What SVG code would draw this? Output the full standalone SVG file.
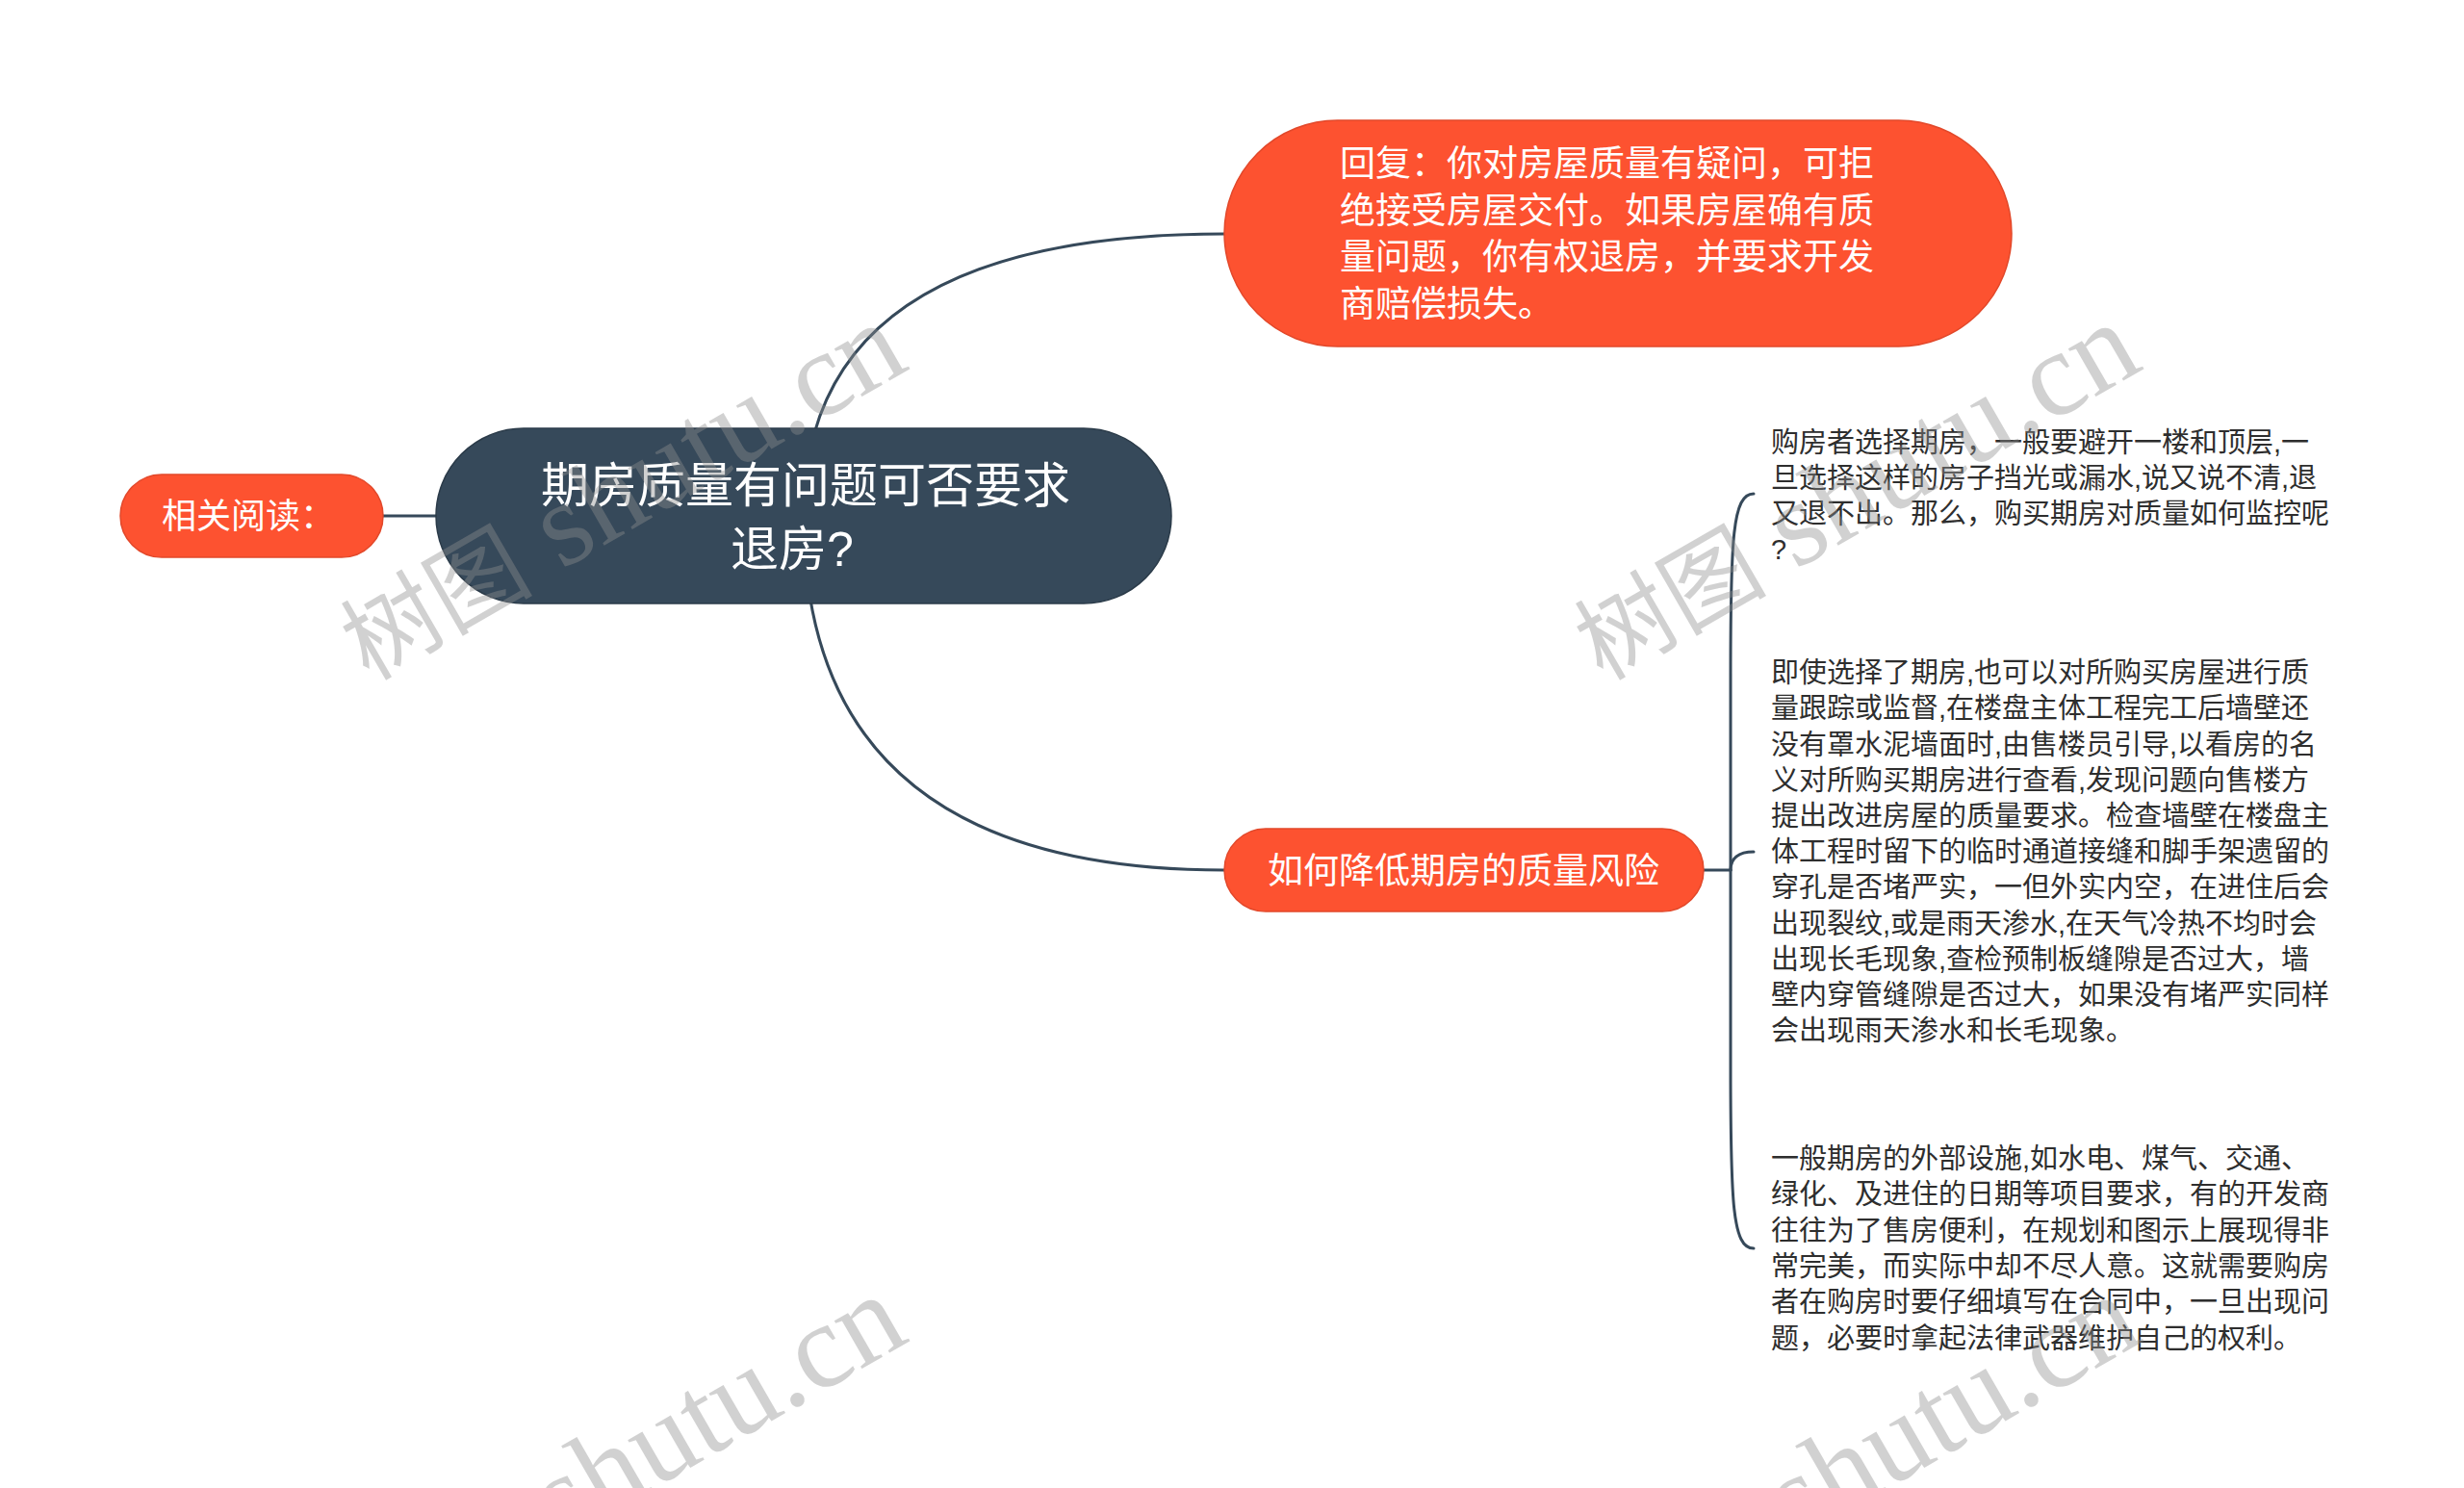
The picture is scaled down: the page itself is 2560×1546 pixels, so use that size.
<svg xmlns="http://www.w3.org/2000/svg" width="2560" height="1546" viewBox="0 0 2560 1546">
<style>
.orange{fill:#fd5230;stroke:#e2482a;stroke-width:1.5}
.dark{fill:#36495a;stroke:#2b3b49;stroke-width:1.5}
.wt{fill:#ffffff;font-family:"Liberation Sans","Noto Sans CJK SC",sans-serif}
.bt{fill:#2e2e2e;font-family:"Liberation Sans","Noto Sans CJK SC",sans-serif;font-size:29px}
.conn{fill:none;stroke:#36495a;stroke-width:3;stroke-linecap:round}
.wm{fill:#8f8f8f;opacity:0.4;font-family:"Liberation Serif","Noto Sans CJK SC",serif;font-size:125px}
.wmc{font-size:100px}
</style>
<rect width="2560" height="1546" fill="#ffffff"/>
<g id="connectors">
<path class="conn" d="M398,536 H453"/>
<path class="conn" d="M835,536 Q835,243 1272,243"/>
<path class="conn" d="M835,536 Q835,904 1272,904"/>
<path class="conn" d="M1770,904 H1798"/>
<path class="conn" d="M1798,904 L1798,700 C1798,560 1800,513 1822,513"/>
<path class="conn" d="M1798,904 C1798,892 1806,885 1822,885"/>
<path class="conn" d="M1798,904 L1798,1110 C1798,1250 1800,1297 1822,1297"/>
</g>
<g id="node-central">
<rect class="dark" x="453" y="445" width="764" height="182" rx="91" ry="91"/>
<text class="wt" font-size="50" x="562" y="522">期房质量有问题可否要求</text>
<text class="wt" font-size="50" x="759" y="588">退房?</text>
</g>
<g id="node-related">
<rect class="orange" x="125" y="493" width="273" height="86" rx="43" ry="43"/>
<text class="wt" font-size="36" x="168" y="549">相关阅读：</text>
</g>
<g id="node-reply">
<rect class="orange" x="1272" y="125" width="818" height="235" rx="117.5" ry="117.5"/>
<text class="wt" font-size="37" x="1392" y="183">回复：你对房屋质量有疑问，可拒</text>
<text class="wt" font-size="37" x="1392" y="232">绝接受房屋交付。如果房屋确有质</text>
<text class="wt" font-size="37" x="1392" y="280">量问题，你有权退房，并要求开发</text>
<text class="wt" font-size="37" x="1392" y="329">商赔偿损失。</text>
</g>
<g id="node-risk">
<rect class="orange" x="1272" y="861" width="498" height="86" rx="43" ry="43"/>
<text class="wt" font-size="37" x="1317" y="918">如何降低期房的质量风险</text>
</g>
<g id="node-text1">
<text class="bt" x="1840" y="470">购房者选择期房，一般要避开一楼和顶层,一</text>
<text class="bt" x="1840" y="507">旦选择这样的房子挡光或漏水,说又说不清,退</text>
<text class="bt" x="1840" y="544">又退不出。那么，购买期房对质量如何监控呢</text>
<text class="bt" x="1840" y="581">?</text>
</g>
<g id="node-text2">
<text class="bt" x="1840" y="709">即使选择了期房,也可以对所购买房屋进行质</text>
<text class="bt" x="1840" y="746">量跟踪或监督,在楼盘主体工程完工后墙壁还</text>
<text class="bt" x="1840" y="784">没有罩水泥墙面时,由售楼员引导,以看房的名</text>
<text class="bt" x="1840" y="821">义对所购买期房进行查看,发现问题向售楼方</text>
<text class="bt" x="1840" y="858">提出改进房屋的质量要求。检查墙壁在楼盘主</text>
<text class="bt" x="1840" y="895">体工程时留下的临时通道接缝和脚手架遗留的</text>
<text class="bt" x="1840" y="932">穿孔是否堵严实，一但外实内空，在进住后会</text>
<text class="bt" x="1840" y="970">出现裂纹,或是雨天渗水,在天气冷热不均时会</text>
<text class="bt" x="1840" y="1007">出现长毛现象,查检预制板缝隙是否过大，墙</text>
<text class="bt" x="1840" y="1044">壁内穿管缝隙是否过大，如果没有堵严实同样</text>
<text class="bt" x="1840" y="1081">会出现雨天渗水和长毛现象。</text>
</g>
<g id="node-text3">
<text class="bt" x="1840" y="1214">一般期房的外部设施,如水电、煤气、交通、</text>
<text class="bt" x="1840" y="1251">绿化、及进住的日期等项目要求，有的开发商</text>
<text class="bt" x="1840" y="1289">往往为了售房便利，在规划和图示上展现得非</text>
<text class="bt" x="1840" y="1326">常完美，而实际中却不尽人意。这就需要购房</text>
<text class="bt" x="1840" y="1363">者在购房时要仔细填写在合同中，一旦出现问</text>
<text class="bt" x="1840" y="1401">题，必要时拿起法律武器维护自己的权利。</text>
</g>
<g id="watermarks">
<text class="wm" x="383" y="708" transform="rotate(-30 383 708)"><tspan class="wmc">树图</tspan> shutu.cn</text>
<text class="wm" x="1665" y="708" transform="rotate(-30 1665 708)"><tspan class="wmc">树图</tspan> shutu.cn</text>
<text class="wm" x="383" y="1718" transform="rotate(-30 383 1718)"><tspan class="wmc">树图</tspan> shutu.cn</text>
<text class="wm" x="1665" y="1718" transform="rotate(-30 1665 1718)"><tspan class="wmc">树图</tspan> shutu.cn</text>
</g>
</svg>
